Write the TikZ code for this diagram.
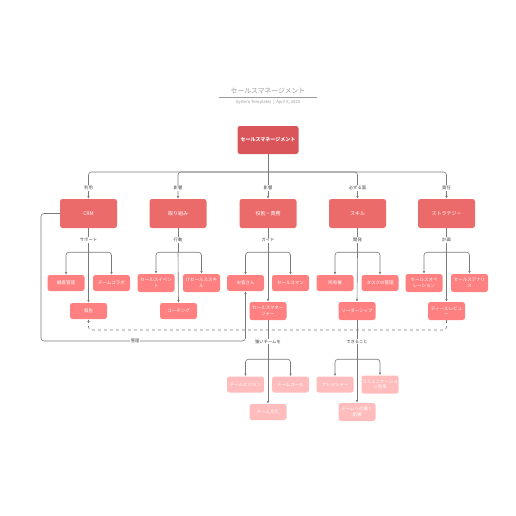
\documentclass[tikz,border=0pt]{standalone}
\usepackage{fontspec}
\setmainfont{Noto Sans CJK JP}
\usetikzlibrary{arrows.meta,calc}
\definecolor{ctop}{HTML}{D9555A}
\definecolor{cone}{HTML}{EB6B6B}
\definecolor{ctwo}{HTML}{FF8080}
\definecolor{cthree}{HTML}{FFBCBC}
\definecolor{cline}{HTML}{7A7A7A}
\definecolor{ctitle}{HTML}{9A9A9A}
\tikzset{
  base/.style={rounded corners=2.5pt, text=white, align=center, inner sep=0pt, font=\fontsize{4.5}{5.8}\selectfont},
  topbox/.style={base, fill=ctop, minimum width=61pt, minimum height=28pt, font=\fontsize{5}{6}\selectfont\bfseries},
  onebox/.style={base, fill=cone, minimum width=57pt, minimum height=29pt, font=\fontsize{5}{6}\selectfont},
  twobox/.style={base, fill=ctwo, minimum width=37pt, minimum height=16pt},
  twotall/.style={twobox, minimum height=18pt},
  threebox/.style={base, fill=cthree, minimum width=37pt, minimum height=16pt},
  threetall/.style={threebox, minimum height=18pt},
  conn/.style={draw=cline, line width=0.6pt},
  arr/.style={conn, -{Latex[length=2.8pt,width=2.6pt]}},
  lbl/.style={fill=white, inner sep=0.8pt, text=black!75, font=\fontsize{4.3}{5}\selectfont},
}
\begin{document}
\begin{tikzpicture}[x=1pt,y=-1pt]
\useasboundingbox (0,0) rectangle (516,516);
% title
\node[text=ctitle, font=\fontsize{6.8}{7.5}\selectfont] (title) at (268,91) {セールスマネージメント};
\coordinate (ul1) at (219,97.5);
\coordinate (ul2) at (317,97.5);
\draw[ctitle, line width=0.6pt] (ul1) -- (ul2);
\node[text=ctitle, font=\fontsize{4.2}{5}\selectfont] (sub) at (268,102.5) {System Templates \ | \ April 8, 2025};

% top
\node[topbox] (top) at (268,140) {セールスマネージメント};
% level 1
\node[onebox] (crm) at (88.5,213.5) {CRM};
\node[onebox] (tk) at (178,213.5) {取り組み};
\node[onebox] (yk) at (268,213.5) {役割・責務};
\node[onebox] (sk) at (357.5,213.5) {スキル};
\node[onebox] (st) at (446.5,213.5) {ストラテジー};
% level 2
\node[twobox] (kk) at (66,283) {顧客管理};
\node[twobox] (tc) at (111.5,283) {チームコラボ};
\node[twobox] (hk) at (88.5,311) {報告};
\node[twotall] (se) at (156,283) {セールスイベン\\ト};
\node[twotall] (it) at (201.5,283) {ITセールススキ\\ル};
\node[twobox] (co) at (178.5,311) {コーチング};
\node[twobox] (ok) at (245.5,283) {お客さん};
\node[twobox] (sm) at (290.5,283) {セールスマン};
\node[twotall] (mg) at (268,311) {セールスマネー\\ジャー};
\node[twobox] (sy) at (335,283) {所有権};
\node[twobox] (ta) at (380,283) {タスクの管理};
\node[twotall] (ld) at (357,311) {リーダーシップ};
\node[twotall] (so) at (424,283) {セールスオペ\\レーション};
\node[twotall] (sa) at (469.5,283) {セールスアナリ\\ス};
\node[twotall] (dr) at (446.5,311) {ディールレビュ\\ー};
% level 3
\node[threebox] (tv) at (245.5,384.5) {チームビジョン};
\node[threebox] (tg) at (290.5,384.5) {チームゴール};
\node[threebox] (tb) at (268,412) {チーム文化};
\node[threebox] (ps) at (335,384.5) {プレッシャー};
\node[threetall] (cm) at (380,384.5) {コミュニケーショ\\ン効率};
\node[threetall] (ei) at (357,412) {チームへの働く\\影響};

% top to level 1
\coordinate (hub) at (268,172);
\draw[conn] (top.south) -- (hub);
\draw[arr, rounded corners=3pt] (hub) -| (crm.north) node[lbl, pos=0.8] {利用};
\draw[arr, rounded corners=3pt] (hub) -| (tk.north) node[lbl, pos=0.8] {影響};
\draw[arr] (hub) -- (yk.north) node[lbl, pos=0.6] {影響};
\draw[arr, rounded corners=3pt] (hub) -| (sk.north) node[lbl, pos=0.8] {必ずる面};
\draw[arr, rounded corners=3pt] (hub) -| (st.north) node[lbl, pos=0.8] {責任};

% level 1 to level 2
\foreach \p/\q/\l/\a/\b/\c in {crm/c1/サポート/kk/tc/hk, tk/c2/行動/se/it/co, yk/c3/ガイド/ok/sm/mg, sk/c4/開発/sy/ta/ld, st/c5/計画/so/sa/dr}{
  \coordinate (\q) at ($(\p.south)+(0,24)$);
  \draw[conn] (\p.south) -- node[lbl] {\l} (\q);
  \draw[arr, rounded corners=3pt] (\q) -| (\a.north);
  \draw[arr, rounded corners=3pt] (\q) -| (\b.north);
  \draw[arr] (\q) -- (\c.north);
}

% level 2 to level 3
\foreach \p/\q/\l/\a/\b/\c in {mg/d1/強いチームを/tv/tg/tb, ld/d2/できること/ps/cm/ei}{
  \coordinate (\q) at ($(\p.south)+(0,39)$);
  \draw[conn] (\p.south) -- node[lbl, pos=0.55] {\l} (\q);
  \draw[arr, rounded corners=3pt] (\q) -| (\a.north);
  \draw[arr, rounded corners=3pt] (\q) -| (\b.north);
  \draw[arr] (\q) -- (\c.north);
}

% cross links
\coordinate (dd) at (446.5,330);
\draw[arr, dashed, rounded corners=3pt] (dr.south) -- (dd) -| (hk.south);
\coordinate (kr) at (41,341);
\draw[arr, rounded corners=3pt] (crm.west) -| (kr) -| (ok.south) node[lbl, pos=0.23] {管理};
\end{tikzpicture}
\end{document}
